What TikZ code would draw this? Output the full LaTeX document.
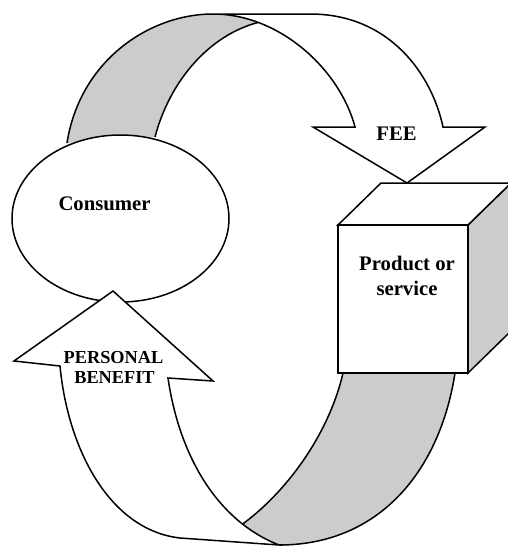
\documentclass[tikz,border=0pt]{standalone}
\usepackage{fontspec}
\setmainfont{Liberation Serif}
\usetikzlibrary{shapes.geometric}
\begin{document}
\begin{tikzpicture}[x=1pt,y=-1pt,
  edge/.style={draw=black,line width=1.5pt,line join=miter},
  back/.style={edge,fill=gray!40},
  front/.style={edge,fill=white},
  lbl/.style={font=\fontsize{20.7}{25}\selectfont\bfseries,anchor=base,inner sep=0pt},
  slbl/.style={font=\fontsize{18.3}{22}\selectfont\bfseries,anchor=base,inner sep=0pt}]
\useasboundingbox (0,0) rectangle (508,546);
% top ribbon: back (gray) part
\fill[gray!40] (67,143) .. controls (80,60) and (150,14) .. (213,14)
  -- (258,14) -- (258,22.5) .. controls (210,35) and (170,80) .. (155,137) -- cycle;
\draw[edge] (67,143) .. controls (80,60) and (150,14) .. (213,14);
\draw[edge] (155,137) .. controls (170,80) and (210,35) .. (258,22.5);
% top ribbon: front part with arrow head (FEE)
\path[front] (213,14) -- (310,14) .. controls (390,14) and (432,75) .. (443,127)
  -- (485,127) -- (407,183) -- (313,127) -- (355,127)
  .. controls (340,70) and (280,14) .. (213,14) -- cycle;
% consumer ellipse
\node[front,ellipse,minimum width=217pt,minimum height=167pt,inner sep=0pt] (consumer) at (120.5,218.5) {};
\node[lbl] (consumertxt) at (104.5,210) {Consumer};
\node[lbl] (feetxt) at (396.5,140) {FEE};
% bottom ribbon: back (gray) part
\fill[gray!40] (240,526) .. controls (290,490) and (330,430) .. (343,373)
  -- (455,373) .. controls (440,470) and (380,545) .. (279,545)
  -- (240,540) -- cycle;
\draw[edge] (240,526) .. controls (290,490) and (330,430) .. (343,373);
\draw[edge] (455,373) .. controls (440,470) and (380,545) .. (279,545);
% bottom ribbon: front part with arrow head (PERSONAL BENEFIT)
\path[front] (113,291) -- (213,381) -- (168,378)
  .. controls (180,460) and (220,522) .. (279,545) -- (180,538)
  .. controls (110,530) and (68,450) .. (60,366) -- (14,361) -- cycle;
\node[slbl] (pers) at (113.5,363) {PERSONAL};
\node[slbl] (bene) at (114.5,383) {BENEFIT};
% cube
\path[back] (468,225) -- (511,183) -- (511,331) -- (468,373) -- cycle;
\path[front] (338,225) -- (381,183) -- (511,183) -- (468,225) -- cycle;
\path[front] (338,225) rectangle (468,373);
\node[lbl] (prod) at (407,270) {Product or};
\node[lbl] (serv) at (407,295) {service};
\end{tikzpicture}
\end{document}
